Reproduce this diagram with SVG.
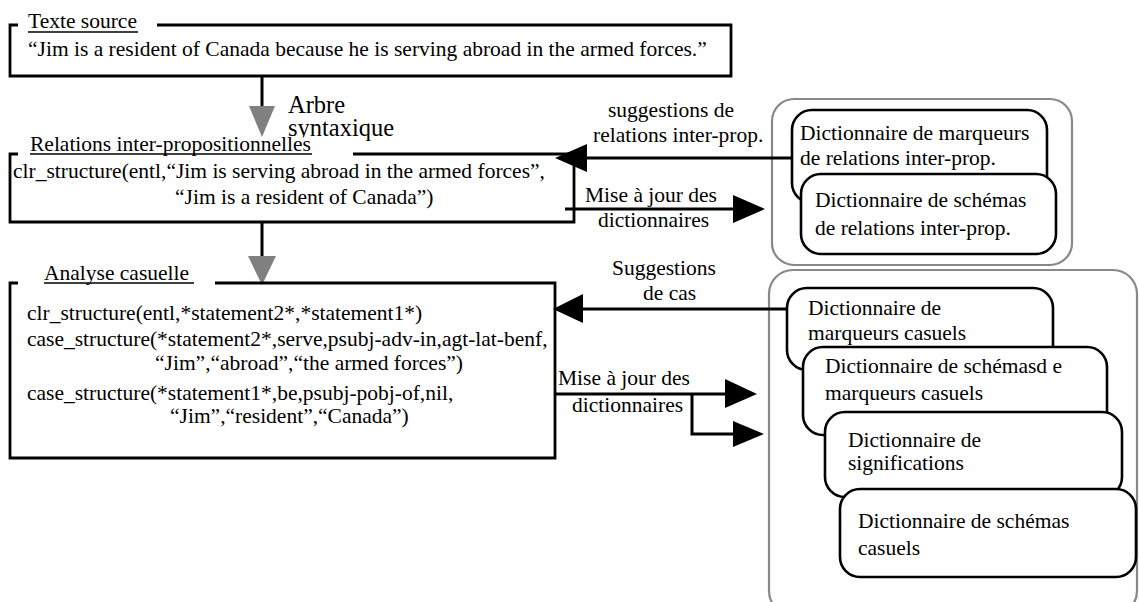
<svg xmlns="http://www.w3.org/2000/svg" width="1139" height="602" viewBox="0 0 1139 602">
<style>
text{font-family:"Liberation Serif","Times New Roman",serif;font-size:21.5px;fill:#000}
.big{font-size:24.5px}
.box{fill:none;stroke:#000;stroke-width:2.8}
.ul{stroke:#000;stroke-width:1.3}
.dict{fill:#fff;stroke:#000;stroke-width:2.6}
.grp{fill:none;stroke:#888;stroke-width:2.2}
.ln{fill:none;stroke:#000;stroke-width:3}
.head{fill:#000}
.ghead{fill:#808080}
</style>
<rect width="1139" height="602" fill="#fff"/>

<g id="groupe-relations">
<rect class="grp" x="772" y="99" width="300" height="166" rx="22"/>
</g>
<g id="groupe-cas">
<rect class="grp" x="769" y="270" width="368" height="345" rx="24"/>
</g>

<g id="texte-source">
<path class="box" d="M18,25 H10 V76 H731 V25 H157"/>
<text x="28" y="28">Texte source</text>
<line class="ul" x1="28" y1="32" x2="138" y2="32"/>
<text x="28" y="56">“Jim is a resident of Canada because he is serving abroad in the armed forces.”</text>
</g>

<g id="connecteurs">
<line class="ln" x1="262" y1="76" x2="262" y2="108"/>
<polygon class="ghead" points="249,106 275,106 262,137"/>
<text class="big" x="288" y="113">Arbre</text>
<text class="big" x="288" y="136">syntaxique</text>
<line class="ln" x1="262" y1="222" x2="262" y2="258"/>
<polygon class="ghead" points="248,256 276,256 262,285"/>

<line class="ln" x1="792" y1="158" x2="580" y2="158"/>
<polygon class="head" points="555,158 587,144 587,172"/>
<text x="608" y="117">suggestions de</text>
<text x="593" y="142">relations inter-prop.</text>

<line class="ln" x1="565" y1="209" x2="740" y2="209"/>
<polygon class="head" points="765,209 733,195 733,223"/>
<text x="585" y="202">Mise à jour des</text>
<text x="598" y="227">dictionnaires</text>

<line class="ln" x1="788" y1="309" x2="578" y2="309"/>
<polygon class="head" points="553,309 583,294 583,323"/>
<text x="612" y="275">Suggestions</text>
<text x="643" y="300">de cas</text>

<polyline class="ln" points="555,394 732,394"/>
<polyline class="ln" points="692,394 692,434 740,434"/>
<polygon class="head" points="757,394 725,379 725,408"/>
<polygon class="head" points="764,434 733,421 733,447"/>
<text x="558" y="385">Mise à jour des</text>
<text x="572" y="412">dictionnaires</text>
</g>

<g id="relations">
<rect x="20" y="137.5" width="330" height="16" fill="#fff"/>
<path class="box" d="M18,154 H10 V222 H574 V154 H353"/>
<text x="30" y="151">Relations inter-propositionnelles</text>
<line class="ul" x1="30" y1="154" x2="312" y2="154"/>
<text x="13" y="178">clr_structure(entl,“Jim is serving abroad in the armed forces”,</text>
<text x="175" y="204">“Jim is a resident of Canada”)</text>
</g>

<g id="analyse">
<path class="box" d="M18,283 H10 V458 H555 V283 H215"/>
<text x="44" y="280">Analyse casuelle</text>
<line class="ul" x1="44" y1="283" x2="194" y2="283"/>
<text x="27" y="320">clr_structure(entl,*statement2*,*statement1*)</text>
<text x="27" y="346">case_structure(*statement2*,serve,psubj-adv-in,agt-lat-benf,</text>
<text x="155" y="370">“Jim”,“abroad”,“the armed forces”)</text>
<text x="27" y="400">case_structure(*statement1*,be,psubj-pobj-of,nil,</text>
<text x="170" y="423">“Jim”,“resident”,“Canada”)</text>
</g>

<g id="dict-marqueurs-rel">
<rect class="dict" x="792" y="110" width="255" height="93" rx="20"/>
<text x="800" y="140">Dictionnaire de marqueurs</text>
<text x="800" y="165">de relations inter-prop.</text>
</g>
<g id="dict-schemas-rel">
<rect class="dict" x="801" y="174" width="255" height="80" rx="20"/>
<text x="815" y="207">Dictionnaire de schémas</text>
<text x="815" y="235">de relations inter-prop.</text>
</g>

<g id="dict-marqueurs-cas">
<rect class="dict" x="787" y="288" width="266" height="82" rx="20"/>
<text x="808" y="315">Dictionnaire de</text>
<text x="808" y="340">marqueurs casuels</text>
</g>
<g id="dict-schemas-marqueurs">
<rect class="dict" x="803" y="347" width="304" height="88" rx="20"/>
<text x="825" y="373">Dictionnaire de schémasd e</text>
<text x="825" y="400">marqueurs casuels</text>
</g>
<g id="dict-significations">
<rect class="dict" x="825" y="412" width="297" height="85" rx="20"/>
<text x="848" y="447">Dictionnaire de</text>
<text x="848" y="470">significations</text>
</g>
<g id="dict-schemas-cas">
<rect class="dict" x="840" y="489" width="296" height="88" rx="20"/>
<text x="858" y="528">Dictionnaire de schémas</text>
<text x="858" y="555">casuels</text>
</g>
</svg>
